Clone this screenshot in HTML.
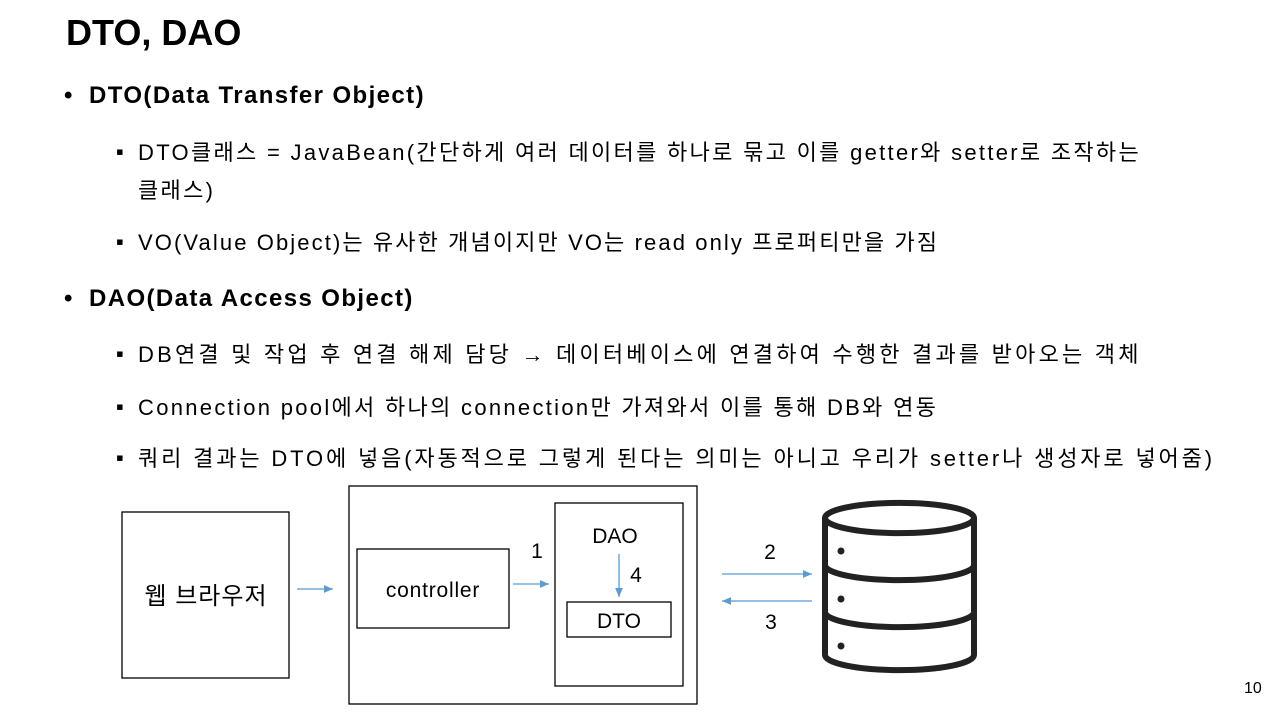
<!DOCTYPE html>
<html><head><meta charset="utf-8"><style>
body{margin:0;width:1278px;height:718px;background:#fff;position:relative;overflow:hidden;font-family:"Liberation Sans","Noto Sans CJK KR",sans-serif;color:#000}
.t{position:absolute;white-space:nowrap}
.h{font-size:24px;font-weight:bold;letter-spacing:1.4px}
.s{font-size:22px;letter-spacing:2.5px}
.b{position:absolute;left:-22px;letter-spacing:0}
.s .b{top:4px}
</style></head><body>
<div class="t" style="left:66px;top:12px;font-size:36px;font-weight:bold">DTO, DAO</div>
<div class="t h" style="left:89px;top:82px"><span class="b" style="left:-25px">•</span>DTO(Data Transfer Object)</div>
<div class="t s" style="left:138px;top:135px;letter-spacing:2.3px"><span class="b">▪</span>DTO클래스 = JavaBean(간단하게 여러 데이터를 하나로 묶고 이를 getter와 setter로 조작하는</div>
<div class="t s" style="left:138px;top:173px;letter-spacing:2.3px">클래스)</div>
<div class="t s" style="left:138px;top:225px;letter-spacing:2.1px"><span class="b">▪</span>VO(Value Object)는 유사한 개념이지만 VO는 read only 프로퍼티만을 가짐</div>
<div class="t h" style="left:89px;top:285px"><span class="b" style="left:-25px">•</span>DAO(Data Access Object)</div>
<div class="t s" style="left:138px;top:337px;letter-spacing:3.2px"><span class="b">▪</span>DB연결 및 작업 후 연결 해제 담당 <b>→</b> 데이터베이스에 연결하여 수행한 결과를 받아오는 객체</div>
<div class="t s" style="left:138px;top:390px;letter-spacing:2.3px"><span class="b">▪</span>Connection pool에서 하나의 connection만 가져와서 이를 통해 DB와 연동</div>
<div class="t s" style="left:138px;top:441px;letter-spacing:2.85px"><span class="b">▪</span>쿼리 결과는 DTO에 넣음(자동적으로 그렇게 된다는 의미는 아니고 우리가 setter나 생성자로 넣어줌)</div>
<svg width="1278" height="718" style="position:absolute;left:0;top:0" font-family="Liberation Sans, Noto Sans CJK KR, sans-serif">
<defs><marker id="a" markerWidth="8" markerHeight="8" refX="7" refY="4" orient="auto"><path d="M0,1 L7,4 L0,7z" fill="#5b9bd5"/></marker></defs>
<g fill="none" stroke="#000" stroke-width="1.3">
<rect x="122" y="512" width="167" height="166"/>
<rect x="349" y="486" width="348" height="218"/>
<rect x="357" y="549" width="152" height="79"/>
<rect x="555" y="503" width="128" height="183"/>
<rect x="567" y="602" width="104" height="35"/>
</g>
<g stroke="#5b9bd5" stroke-width="1.3" marker-end="url(#a)">
<line x1="297" y1="589" x2="333" y2="589"/>
<line x1="513" y1="584" x2="549" y2="584"/>
<line x1="619" y1="554" x2="619" y2="597"/>
<line x1="722" y1="574" x2="812" y2="574"/>
<line x1="812" y1="601" x2="722" y2="601"/>
</g>
<g font-size="21" text-anchor="middle">
<text x="206" y="604" font-size="24" letter-spacing="1">웹 브라우저</text>
<text x="433" y="597" letter-spacing="0.8">controller</text>
<text x="615" y="543">DAO</text>
<text x="619" y="628">DTO</text>
<text x="537" y="558">1</text>
<text x="770" y="559">2</text>
<text x="636" y="582">4</text>
<text x="771" y="629">3</text>
</g>
<g fill="none" stroke="#222" stroke-width="6">
<path d="M825,518 A74,15 0 0 1 974,518 L974,655 A74,15 0 0 1 825,655 Z"/>
<path d="M825,518 A74,15 0 0 0 974,518"/>
<path d="M825,565 A74,15 0 0 0 974,565"/>
<path d="M825,612 A74,15 0 0 0 974,612"/>
</g>
<g fill="#222"><circle cx="841" cy="551" r="3.5"/><circle cx="841" cy="599" r="3.5"/><circle cx="841" cy="646" r="3.5"/></g>
<text x="1244" y="693" font-size="16">10</text>
</svg>
</body></html>
